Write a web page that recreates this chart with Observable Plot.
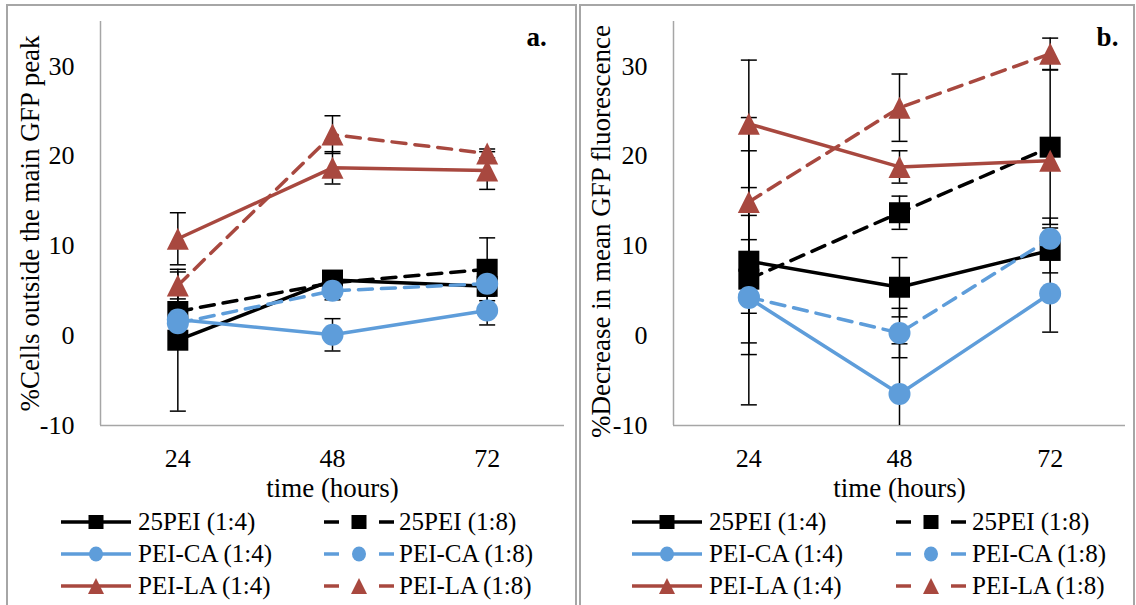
<!DOCTYPE html>
<html>
<head>
<meta charset="utf-8">
<script src="https://cdn.jsdelivr.net/npm/d3@7"></script>
<script src="https://cdn.jsdelivr.net/npm/@observablehq/plot@0.6"></script>
<style>
  html, body { margin: 0; padding: 0; background: #fff; }
  body { width: 1136px; height: 605px; overflow: hidden; position: relative; font-family: "Liberation Serif", "DejaVu Serif", serif; color: #000; }
  .box { position: absolute; top: 4px; height: 700px; border: 2px solid #a6a6a6; box-sizing: border-box; }
  .plotwrap { position: absolute; top: 0; }
  .plotwrap svg { display: block; max-width: none !important; overflow: visible; }
  .lg-sw { position: absolute; width: 70px; height: 22px; overflow: visible; }
  .lg-tx { position: absolute; font-size: 25px; line-height: 1; white-space: nowrap; transform: translateY(-52%); }
</style>
</head>
<body>
<div class="box" style="left:6px; width:571px;"></div>
<div class="box" style="left:579px; width:556px;"></div>
<div id="panelA" class="plotwrap" style="left:10px; width:560px;"></div>
<div id="panelB" class="plotwrap" style="left:582px; width:548px;"></div>
<div id="legends"></div>
<script>
// ---------------- data ----------------
const times = [24, 48, 72];
const seriesNames = ["25PEI (1:4)", "25PEI (1:8)", "PEI-CA (1:4)", "PEI-CA (1:8)", "PEI-LA (1:4)", "PEI-LA (1:8)"];
const yTicks = [-10, 0, 10, 20, 30];

// panel a: % cells outside the main GFP peak (mean per time point) and error
const cellsOutside = [
  [-0.5, 6.2, 5.5],
  [2.7, 5.9, 7.4],
  [1.8, 0.1, 2.8],
  [1.4, 5.0, 5.8],
  [10.8, 18.7, 18.4],
  [5.6, 22.4, 20.3]
];
const cellsOutsideErr = [
  [7.9, 1.0, 1.0],
  [2.0, 1.0, 3.5],
  [1.0, 1.8, 1.6],
  [1.0, 1.0, 1.0],
  [2.9, 1.8, 2.1],
  [1.5, 2.1, 0.5]
];

// panel b: % decrease in mean GFP fluorescence and error
const decreaseGFP = [
  [8.3, 5.4, 9.5],
  [6.3, 13.7, 21.0],
  [4.2, -6.5, 4.7],
  [4.3, 0.3, 10.8],
  [23.6, 18.8, 19.5],
  [14.9, 25.4, 31.4]
];
const decreaseGFPErr = [
  [16.0, 3.3, 2.5],
  [7.1, 1.85, 8.6],
  [1.7, 5.6, 4.3],
  [6.4, 2.75, 2.3],
  [7.1, 1.8, 1.0],
  [5.7, 3.75, 1.75]
];

const panelTitles = ["%Cells outside the main GFP peak", "%Decrease in mean GFP fluorescence"];
const panelTags = ["a.", "b."];
const xTitle = "time (hours)";

// ---------------- styles ----------------
const BLACK = "#000000", BLUE = "#5e9dda", RED = "#a8483f";
const squareSym = {draw(ctx, size) { const r = Math.sqrt(size / Math.PI); ctx.rect(-r, -r, 2 * r, 2 * r); }};
const triSym = {draw(ctx, size) { const r = Math.sqrt(size / Math.PI); ctx.moveTo(0, -r); ctx.lineTo(r, r); ctx.lineTo(-r, r); ctx.closePath(); }};
const circSym = {draw(ctx, size) { const r = Math.sqrt(size / Math.PI); ctx.moveTo(r, 0); ctx.arc(0, 0, r, 0, 2 * Math.PI); }};
const capSym = {draw(ctx, size) { const r = Math.sqrt(size / Math.PI); ctx.moveTo(-r, 0); ctx.lineTo(r, 0); }};
const seriesStyle = [
  {color: BLACK, dash: null, symbol: squareSym, r: 10.5, kind: "square"},
  {color: BLACK, dash: "14,9", symbol: squareSym, r: 10.5, kind: "square"},
  {color: BLUE, dash: null, symbol: circSym, r: 11, kind: "circle"},
  {color: BLUE, dash: "14,9", symbol: circSym, r: 11, kind: "circle"},
  {color: RED, dash: null, symbol: triSym, r: 11, kind: "tri"},
  {color: RED, dash: "14,9", symbol: triSym, r: 11, kind: "tri"}
];
const AXIS_GRAY = "#a6a6a6";
const xDomain = [12, 84];
const yDomain = [-10, 35];

function makePanel(values, errs, cfg) {
  const rows = [];
  seriesNames.forEach((s, i) => times.forEach((t, j) => rows.push({series: s, idx: i, time: t, value: values[i][j], err: errs[i][j]})));
  const marks = [
    Plot.ruleX([xDomain[0]], {stroke: AXIS_GRAY, strokeWidth: 1.5}),
    Plot.ruleY([yDomain[0]], {stroke: AXIS_GRAY, strokeWidth: 1.5}),
    Plot.axisY({ticks: yTicks, tickSize: 0, tickPadding: 26, tickFormat: d => String(d), label: null}),
    Plot.axisX({ticks: times, tickSize: 0, tickPadding: 23, tickFormat: d => String(d), label: null}),
    Plot.text([cfg.yTitle], {frameAnchor: "left", rotate: -90, textAnchor: "middle", lineAnchor: "middle", dx: cfg.yTitleDx, dy: cfg.yTitleDy, fontSize: 27}),
    Plot.text([xTitle], {frameAnchor: "bottom", textAnchor: "middle", lineAnchor: "middle", dy: 63, fontSize: 27}),
    Plot.text([cfg.tag], {frameAnchor: "top-right", textAnchor: "middle", lineAnchor: "middle", dx: cfg.tagDx, dy: 16, fontWeight: "bold", fontSize: 27}),
    Plot.ruleX(rows, {x: "time", y1: d => d.value - d.err, y2: d => d.value + d.err, stroke: "#000", strokeWidth: 1.5, clip: true}),
    Plot.dot(rows, {x: "time", y: d => d.value + d.err, symbol: capSym, r: 8, fill: "none", stroke: "#000", strokeWidth: 1.5, clip: true}),
    Plot.dot(rows, {x: "time", y: d => d.value - d.err, symbol: capSym, r: 8, fill: "none", stroke: "#000", strokeWidth: 1.5, clip: true})
  ];
  seriesNames.forEach((s, i) => {
    const r = rows.filter(d => d.idx === i);
    const st = seriesStyle[i];
    marks.push(Plot.line(r, {x: "time", y: "value", stroke: st.color, strokeWidth: 3.5, strokeDasharray: st.dash}));
    marks.push(Plot.dot(r, {x: "time", y: "value", symbol: st.symbol, r: st.r, fill: st.color, stroke: "none"}));
  });
  return Plot.plot({
    width: cfg.width, height: 505,
    marginLeft: cfg.marginLeft, marginRight: cfg.marginRight, marginTop: 21, marginBottom: 80,
    x: {type: "linear", domain: xDomain},
    y: {type: "linear", domain: yDomain},
    style: {fontFamily: "'Liberation Serif', serif", fontSize: "26px", background: "transparent", color: "#000", overflow: "visible"},
    marks
  });
}

document.getElementById("panelA").appendChild(makePanel(cellsOutside, cellsOutsideErr,
  {width: 560, marginLeft: 90, marginRight: 6, yTitle: panelTitles[0], yTitleDx: -70, yTitleDy: 0, tag: panelTags[0], tagDx: -28}));
document.getElementById("panelB").appendChild(makePanel(decreaseGFP, decreaseGFPErr,
  {width: 548, marginLeft: 91, marginRight: 5, yTitle: panelTitles[1], yTitleDx: -72, yTitleDy: 8, tag: panelTags[1], tagDx: -18}));

// ---------------- legends (below each chart) ----------------
const legendRoot = document.getElementById("legends");
const rowY = [522, 554, 586];
function addLegend(colSw, colTx) {
  seriesNames.forEach((name, i) => {
    const col = i % 2, row = Math.floor(i / 2);
    const st = seriesStyle[i];
    const svg = d3.create("svg").attr("class", "lg-sw").attr("width", 70).attr("height", 22)
      .style("left", colSw[col] + "px").style("top", (rowY[row] - 11) + "px");
    if (st.dash) {
      svg.append("line").attr("x1", 0).attr("x2", 15).attr("y1", 11).attr("y2", 11).attr("stroke", st.color).attr("stroke-width", 3.5);
      svg.append("line").attr("x1", 55).attr("x2", 70).attr("y1", 11).attr("y2", 11).attr("stroke", st.color).attr("stroke-width", 3.5);
    } else {
      svg.append("line").attr("x1", 0).attr("x2", 70).attr("y1", 11).attr("y2", 11).attr("stroke", st.color).attr("stroke-width", 3.5);
    }
    const g = svg.append("g").attr("fill", st.color);
    if (st.kind === "square") g.append("rect").attr("x", 27.5).attr("y", 4).attr("width", 15).attr("height", 14);
    else if (st.kind === "circle") g.append("ellipse").attr("cx", 35).attr("cy", 11).attr("rx", 7).attr("ry", 7.5);
    else g.append("path").attr("d", "M35,3 L43,19 L27,19 Z");
    legendRoot.appendChild(svg.node());
    const tx = document.createElement("div");
    tx.className = "lg-tx";
    tx.textContent = name;
    tx.style.left = colTx[col] + "px";
    tx.style.top = rowY[row] + "px";
    legendRoot.appendChild(tx);
  });
}
addLegend([61, 324], [138, 399]);
addLegend([632, 896], [709, 972]);
</script>
</body>
</html>
